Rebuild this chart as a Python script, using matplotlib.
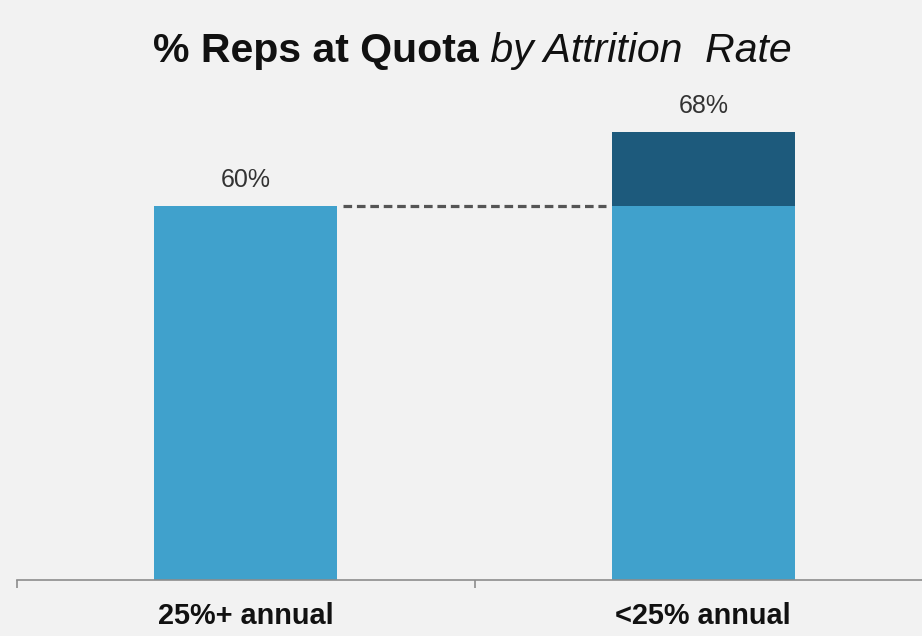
import numpy as np
import matplotlib
matplotlib.use('Agg')
import matplotlib.pyplot as plt

# data
categories = ['25%+ annual', '<25% annual']
base_values = [60, 60]      # light part
uplift_values = [0, 8]      # dark part on top
total_labels = ['60%', '68%']

light_blue = '#40a1cc'
dark_blue = '#1d5a7c'
bg = '#f2f2f2'

plt.rcParams['font.family'] = ['Liberation Sans', 'DejaVu Sans']

fig = plt.figure(figsize=(9.22, 6.36), dpi=100, facecolor=bg)
ax = fig.add_axes([17 / 922, 56 / 636, 905 / 922, 580 / 636])
ax.set_facecolor(bg)

x = np.arange(len(categories))
width = 0.40
totals = np.array(base_values) + np.array(uplift_values)

ax.bar(x, base_values, width, color=light_blue, zorder=2)
ax.bar(x, uplift_values, width, bottom=base_values, color=dark_blue, zorder=2)

# value labels above bars
for xi, t, lab in zip(x, totals, total_labels):
    ax.annotate(lab, (xi, t), xytext=(0, 10), textcoords='offset points',
                ha='center', va='bottom', fontsize=18, color='#333333')

# dashed reference line from the first bar to the second
ax.plot([x[0] + width / 2 + 0.013, x[1] - width / 2 - 0.013], [base_values[0]] * 2,
        color='#555555', lw=2.3, dashes=(2.7, 1.5), zorder=1)

ax.set_xlim(-0.5, 1.478)
ax.set_ylim(19.6, 82.3)

for s in ['top', 'right', 'left']:
    ax.spines[s].set_visible(False)
ax.spines['bottom'].set_color('#8c8c8c')
ax.spines['bottom'].set_linewidth(1.2)

ax.set_yticks([])
ax.set_xticks(x)
ax.set_xticklabels(categories, fontsize=20.8, fontweight='bold', color='#111111')
ax.tick_params(axis='x', which='major', length=0, pad=16)
ax.set_xticks([-0.5, 0.5], minor=True)
ax.tick_params(axis='x', which='minor', length=6, width=1.2, color='#8c8c8c')

# title: bold part + italic part
fig.text(479 / 922, 1 - 62 / 636, '% Reps at Quota', fontsize=29.5, fontweight='bold',
         ha='right', va='baseline', color='#111111')
fig.text(479 / 922, 1 - 62 / 636, ' by Attrition  Rate', fontsize=29.5, fontstyle='italic',
         ha='left', va='baseline', color='#111111')

fig.savefig('out.png', dpi=100, facecolor=bg)
